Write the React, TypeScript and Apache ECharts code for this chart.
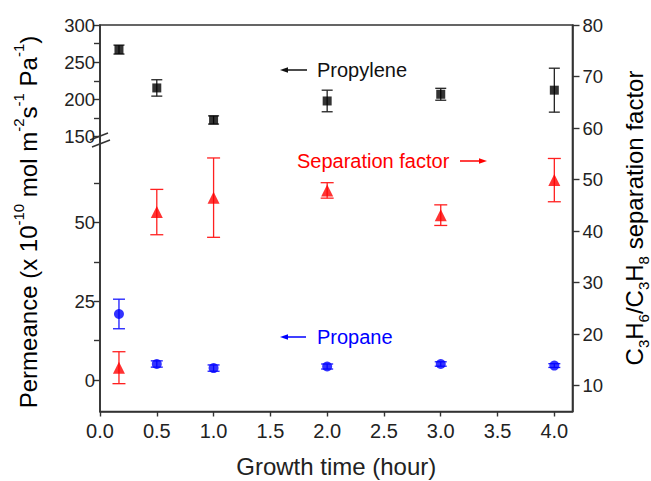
import React, { useEffect, useRef } from "react";
import * as echarts from "echarts";

// ---------- data ----------
const growthTime = [0.167, 0.5, 1.0, 2.0, 3.0, 4.0];
const propylene = [267, 215.5, 172.5, 198, 207, 212.5];
const propyleneErr = [6, 11, 5.5, 14.5, 8, 29.5];
const propane = [21, 5.1, 3.8, 4.3, 5.1, 4.6];
const propaneErr = [4.7, 1.0, 1.0, 0.8, 0.7, 0.6];
const separationFactor = [13.5, 43.7, 46.5, 47.9, 43.1, 49.9];
const separationFactorErr = [3.1, 4.4, 7.7, 1.5, 2.0, 4.2];

const xTickValues = [0, 0.5, 1, 1.5, 2, 2.5, 3, 3.5, 4];
const upperTicks = [150, 200, 250, 300];
const upperMinorTicks = [175, 225, 275];
const lowerTicks = [0, 25, 50];
const lowerMinorTicks = [12.5, 37.5, 62.5];
const rightTicks = [10, 20, 30, 40, 50, 60, 70, 80];

const FONT = "'Liberation Sans', Arial, Helvetica, sans-serif";
const AXIS_COLOR = "#333";
const LABEL_COLOR = "#222";

function errorBars(
  xAxisIndex: number,
  yAxisIndex: number,
  values: number[],
  errs: number[],
  color: string,
  halfCap: number
) {
  return {
    type: "custom",
    xAxisIndex,
    yAxisIndex,
    silent: true,
    z: 2,
    encode: { x: 0, y: [1, 2] },
    data: growthTime.map((x, i) => [x, values[i] - errs[i], values[i] + errs[i]]),
    renderItem: (_params: any, api: any) => {
      const lo = api.coord([api.value(0), api.value(1)]);
      const hi = api.coord([api.value(0), api.value(2)]);
      const style = { stroke: color, lineWidth: 1.3, fill: "none" };
      return {
        type: "group",
        children: [
          { type: "line", shape: { x1: lo[0], y1: lo[1], x2: hi[0], y2: hi[1] }, style },
          { type: "line", shape: { x1: lo[0] - halfCap, y1: lo[1], x2: lo[0] + halfCap, y2: lo[1] }, style },
          { type: "line", shape: { x1: hi[0] - halfCap, y1: hi[1], x2: hi[0] + halfCap, y2: hi[1] }, style },
        ],
      };
    },
  };
}

function leftAxis(gridIndex: number, min: number, max: number, ticks: number[], minor: number[]) {
  return {
    type: "value",
    gridIndex,
    position: "left",
    min,
    max,
    axisLine: { show: true, onZero: false, lineStyle: { color: AXIS_COLOR, width: 1.6 } },
    axisTick: {
      show: true,
      inside: false,
      length: 6,
      customValues: [...ticks, ...minor].sort((a, b) => a - b),
      lineStyle: { color: AXIS_COLOR, width: 1.4 },
    },
    axisLabel: { show: true, customValues: ticks, margin: 5, fontSize: 18.5, fontFamily: FONT, color: LABEL_COLOR },
    splitLine: { show: false },
  };
}

const titleRich = {
  m: { fontSize: 24, lineHeight: 34, verticalAlign: "middle", fontFamily: FONT, color: "#222" },
  s: { fontSize: 15, lineHeight: 16, verticalAlign: "top", fontFamily: FONT, color: "#222" },
  b: { fontSize: 15, lineHeight: 16, verticalAlign: "bottom", fontFamily: FONT, color: "#222" },
};

function arrowLeft(x1: number, x2: number, y: number, color: string) {
  return [
    { type: "line", shape: { x1: x1 + 5, y1: y, x2, y2: y }, style: { stroke: color, lineWidth: 1.5 }, silent: true },
    { type: "polygon", shape: { points: [[x1, y], [x1 + 8, y - 2.8], [x1 + 8, y + 2.8]] }, style: { fill: color }, silent: true },
  ];
}
function arrowRight(x1: number, x2: number, y: number, color: string) {
  return [
    { type: "line", shape: { x1, y1: y, x2: x2 - 5, y2: y }, style: { stroke: color, lineWidth: 1.5 }, silent: true },
    { type: "polygon", shape: { points: [[x2, y], [x2 - 8, y - 2.8], [x2 - 8, y + 2.8]] }, style: { fill: color }, silent: true },
  ];
}

export default function App() {
  const ref = useRef<HTMLDivElement>(null);

  useEffect(() => {
    document.body.style.margin = "0";
    if (!ref.current) return;
    const chart = echarts.init(ref.current, undefined, { renderer: "svg" });

    const gridBase = { left: 100, right: 78.5, containLabel: false, outerBoundsMode: "none" };
    const xMax = 4.16;

    const option: any = {
      animation: false,
      backgroundColor: "#fff",
      grid: [
        { ...gridBase, top: 25, height: 115 },
        { ...gridBase, top: 140, height: 271.5 },
        { ...gridBase, top: 25, height: 386.5, show: true, borderColor: AXIS_COLOR, borderWidth: 1.6, backgroundColor: "transparent" },
      ],
      xAxis: [
        { type: "value", gridIndex: 0, min: 0, max: xMax, show: false, axisLine: { onZero: false } },
        {
          type: "value",
          gridIndex: 1,
          min: 0,
          max: xMax,
          axisLine: { show: true, onZero: false, lineStyle: { color: AXIS_COLOR, width: 1.6 } },
          axisTick: { show: true, inside: false, length: 5, customValues: xTickValues, lineStyle: { color: AXIS_COLOR, width: 1.4 } },
          axisLabel: {
            show: true,
            customValues: xTickValues,
            margin: 9,
            fontSize: 20,
            fontFamily: FONT,
            color: LABEL_COLOR,
            formatter: (v: number) => v.toFixed(1),
          },
          splitLine: { show: false },
          name: "Growth time (hour)",
          nameLocation: "middle",
          nameGap: 43,
          nameTextStyle: { fontSize: 24, fontFamily: FONT, color: "#222" },
        },
        { type: "value", gridIndex: 2, min: 0, max: xMax, show: false, axisLine: { onZero: false } },
      ],
      yAxis: [
        leftAxis(0, 145.6, 300, upperTicks, upperMinorTicks),
        leftAxis(1, -10, 76.3, lowerTicks, lowerMinorTicks),
        {
          type: "value",
          gridIndex: 2,
          position: "right",
          min: 5,
          max: 80,
          axisLine: { show: true, onZero: false, lineStyle: { color: AXIS_COLOR, width: 1.6 } },
          axisTick: { show: true, inside: false, length: 7, customValues: rightTicks, lineStyle: { color: AXIS_COLOR, width: 1.4 } },
          axisLabel: { show: true, customValues: rightTicks, margin: 10, fontSize: 18.5, fontFamily: FONT, color: LABEL_COLOR },
          splitLine: { show: false },
        },
      ],
      series: [
        errorBars(0, 0, propylene, propyleneErr, "#222", 5.5),
        {
          type: "scatter",
          name: "Propylene",
          xAxisIndex: 0,
          yAxisIndex: 0,
          symbol: "rect",
          symbolSize: 9,
          itemStyle: { color: "#000" },
          z: 3,
          data: growthTime.map((x, i) => [x, propylene[i]]),
        },
        errorBars(1, 1, propane, propaneErr, "#1a1aff", 6),
        {
          type: "scatter",
          name: "Propane",
          xAxisIndex: 1,
          yAxisIndex: 1,
          symbol: "circle",
          symbolSize: 10,
          itemStyle: { color: "#0000ff" },
          z: 3,
          data: growthTime.map((x, i) => [x, propane[i]]),
        },
        errorBars(2, 2, separationFactor, separationFactorErr, "#ff2020", 6.5),
        {
          type: "scatter",
          name: "Separation factor",
          xAxisIndex: 2,
          yAxisIndex: 2,
          symbol: "triangle",
          symbolSize: 12,
          itemStyle: { color: "#ff0000" },
          z: 3,
          data: growthTime.map((x, i) => [x, separationFactor[i]]),
        },
      ],
      graphic: [
        // axis break marks
        { type: "line", shape: { x1: 90, y1: 140, x2: 108, y2: 133 }, style: { stroke: AXIS_COLOR, lineWidth: 1.5 }, silent: true },
        { type: "line", shape: { x1: 92, y1: 147, x2: 110, y2: 140 }, style: { stroke: AXIS_COLOR, lineWidth: 1.5 }, silent: true },
        // left axis title
        {
          type: "text",
          x: 28,
          y: 222,
          rotation: Math.PI / 2,
          silent: true,
          style: {
            text: "{m|Permeance (x 10}{s|-10}{m| mol m}{s|-2}{m|s}{s|-1}{m| Pa}{s|-1}{m|)}",
            rich: titleRich,
            align: "center",
            verticalAlign: "middle",
            textAlign: "center",
            textVerticalAlign: "middle",
          },
        },
        // right axis title
        {
          type: "text",
          x: 634,
          y: 218,
          rotation: Math.PI / 2,
          silent: true,
          style: {
            text: "{m|C}{b|3}{m|H}{b|6}{m|/C}{b|3}{m|H}{b|8}{m| separation factor}",
            rich: titleRich,
            align: "center",
            verticalAlign: "middle",
            textAlign: "center",
            textVerticalAlign: "middle",
          },
        },
        // annotations
        ...arrowLeft(280, 307, 70, "#111"),
        {
          type: "text",
          x: 317,
          y: 70,
          silent: true,
          style: { text: "Propylene", fontSize: 20, fontFamily: FONT, fill: "#111", align: "left", verticalAlign: "middle", textAlign: "left", textVerticalAlign: "middle" },
        },
        {
          type: "text",
          x: 297,
          y: 161,
          silent: true,
          style: { text: "Separation factor", fontSize: 20, fontFamily: FONT, fill: "#ff0000", align: "left", verticalAlign: "middle", textAlign: "left", textVerticalAlign: "middle" },
        },
        ...arrowRight(460, 487, 161, "#ff0000"),
        ...arrowLeft(280, 306, 337, "#0000ff"),
        {
          type: "text",
          x: 317,
          y: 337,
          silent: true,
          style: { text: "Propane", fontSize: 20, fontFamily: FONT, fill: "#0000ff", align: "left", verticalAlign: "middle", textAlign: "left", textVerticalAlign: "middle" },
        },
      ],
    };

    chart.setOption(option);
    return () => {
      chart.dispose();
    };
  }, []);

  return <div ref={ref} style={{ width: 651, height: 481 }} />;
}
